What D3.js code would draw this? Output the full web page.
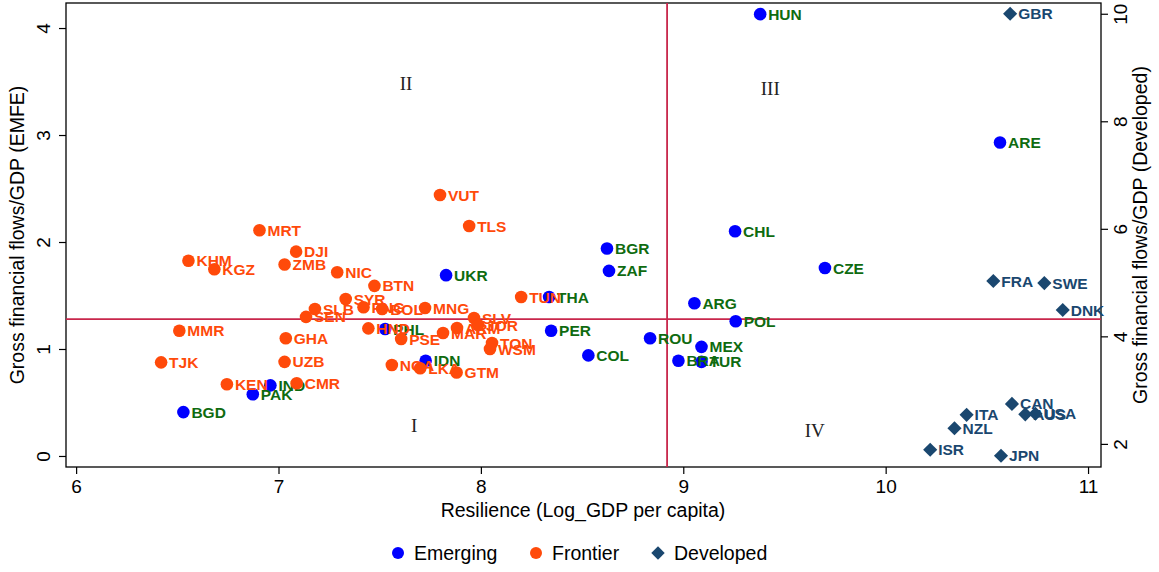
<!DOCTYPE html>
<html>
<head>
<meta charset="utf-8">
<script src="https://cdn.jsdelivr.net/npm/d3@7"></script>
<style>
  html, body { margin: 0; padding: 0; background: #fff; }
  svg { display: block; font-family: "Liberation Sans", Arial, sans-serif; }
</style>
</head>
<body>
<svg id="chart" width="1159" height="572"></svg>
<script>
// Country code, log GDP per capita, gross financial flows / GDP
const emerging = [
  ["HUN", 9.38, 4.13], ["ARE", 10.565, 2.93], ["CHL", 9.256, 2.10], ["CZE", 9.70, 1.757],
  ["BGR", 8.623, 1.94], ["ZAF", 8.633, 1.73], ["ARG", 9.055, 1.427], ["POL", 9.259, 1.26],
  ["ROU", 8.836, 1.10], ["MEX", 9.09, 1.02], ["BRA", 8.976, 0.89], ["TUR", 9.09, 0.88],
  ["COL", 8.531, 0.94], ["PER", 8.347, 1.17], ["THA", 8.337, 1.486], ["UKR", 7.828, 1.69],
  ["IND", 6.96, 0.66], ["PAK", 6.873, 0.577], ["BGD", 6.53, 0.41], ["IDN", 7.727, 0.89],
  ["PHL", 7.527, 1.187]
];
const frontier = [
  ["VUT", 7.798, 2.439], ["TLS", 7.942, 2.15], ["MRT", 6.906, 2.11], ["DJI", 7.087, 1.91],
  ["ZMB", 7.03, 1.79], ["KHM", 6.555, 1.825], ["KGZ", 6.683, 1.745], ["NIC", 7.29, 1.717],
  ["BTN", 7.474, 1.59], ["SYR", 7.332, 1.467], ["SLB", 7.18, 1.374], ["SEN", 7.136, 1.30],
  ["PNG", 7.42, 1.39], ["BOL", 7.512, 1.374], ["MNG", 7.724, 1.383], ["HND", 7.444, 1.193],
  ["PSE", 7.606, 1.093], ["GHA", 7.036, 1.10], ["UZB", 7.03, 0.88], ["MMR", 6.51, 1.17],
  ["TJK", 6.42, 0.875], ["KEN", 6.745, 0.67], ["CMR", 7.09, 0.68], ["NGA", 7.56, 0.85],
  ["LKA", 7.70, 0.82], ["GTM", 7.88, 0.78], ["MAR", 7.813, 1.15], ["ARM", 7.882, 1.196],
  ["SLV", 7.966, 1.29], ["JOR", 7.986, 1.224], ["TON", 8.055, 1.056], ["WSM", 8.045, 1.00],
  ["TUN", 8.199, 1.486]
];
// Developed economies are read against the right-hand axis
const developed = [
  ["GBR", 10.615, 10.0], ["FRA", 10.532, 5.03], ["SWE", 10.784, 4.99], ["DNK", 10.875, 4.49],
  ["CAN", 10.624, 2.744], ["AUS", 10.69, 2.55], ["USA", 10.74, 2.56], ["ITA", 10.40, 2.54],
  ["NZL", 10.34, 2.29], ["ISR", 10.22, 1.89], ["JPN", 10.57, 1.78]
];

const xTicks = [6, 7, 8, 9, 10, 11];
const yLeftTicks = [0, 1, 2, 3, 4];
const yRightTicks = [2, 4, 6, 8, 10];
const thresholdX = 8.92;   // median resilience
const thresholdY = 1.28;   // median gross flows (EMFE)
const quadrants = [
  ["I", 7.67, 0.29], ["II", 7.63, 3.48], ["III", 9.43, 3.44], ["IV", 9.65, 0.24]
];
const legendItems = ["Emerging", "Frontier", "Developed"];

const colors = {
  emMarker: "#0000ff", emLabel: "#0f6b10",
  frMarker: "#ff4a0a", frLabel: "#ff4a0a",
  dvMarker: "#1a476f", dvLabel: "#1a476f",
  line: "#c8264b"
};

const svg = d3.select("#chart");
const plot = { left: 66, right: 1101, top: 3, bottom: 467 };

const x = d3.scaleLinear().domain([5.95, 11.064]).range([plot.left, plot.right]);
const yL = d3.scaleLinear().domain([-0.103, 4.234]).range([plot.bottom, plot.top]);
const yR = d3.scaleLinear().domain([1.57, 10.2]).range([plot.bottom, plot.top]);

// Frame
svg.append("rect")
  .attr("x", plot.left).attr("y", plot.top)
  .attr("width", plot.right - plot.left).attr("height", plot.bottom - plot.top)
  .attr("fill", "none").attr("stroke", "#000").attr("stroke-width", 1.3);

// Axes
const tickFont = "19px";
const xAxis = svg.append("g").attr("transform", `translate(0,${plot.bottom})`)
  .call(d3.axisBottom(x).tickValues(xTicks).tickSize(7).tickPadding(5).tickFormat(d3.format("d")));
const yAxisL = svg.append("g").attr("transform", `translate(${plot.left},0)`)
  .call(d3.axisLeft(yL).tickValues(yLeftTicks).tickSize(7).tickFormat(d3.format("d")));
const yAxisR = svg.append("g").attr("transform", `translate(${plot.right},0)`)
  .call(d3.axisRight(yR).tickValues(yRightTicks).tickSize(7).tickFormat(d3.format("d")));

[xAxis, yAxisL, yAxisR].forEach(g => {
  g.select(".domain").remove();
  g.selectAll(".tick line").attr("stroke", "#000").attr("stroke-width", 1.2);
  g.selectAll(".tick text").attr("font-size", tickFont).attr("fill", "#000")
    .attr("font-family", "Liberation Sans, Arial, sans-serif");
});
xAxis.selectAll(".tick text").attr("dy", "0.72em");
// Vertical axes carry rotated tick labels
yAxisL.selectAll(".tick text")
  .attr("x", null).attr("dy", null).attr("text-anchor", "middle")
  .attr("transform", "translate(-16,0) rotate(-90)").attr("y", 0);
yAxisR.selectAll(".tick text")
  .attr("x", null).attr("dy", null).attr("text-anchor", "middle")
  .attr("transform", "translate(26,0) rotate(-90)").attr("y", 0);

// Axis titles
const titleSize = "19.5px";
svg.append("text").attr("x", 583).attr("y", 517)
  .attr("text-anchor", "middle").attr("font-size", titleSize).attr("fill", "#000")
  .text("Resilience (Log_GDP per capita)");
svg.append("text")
  .attr("transform", `translate(24,${(plot.top + plot.bottom) / 2}) rotate(-90)`)
  .attr("text-anchor", "middle").attr("font-size", titleSize).attr("fill", "#000")
  .text("Gross financial flows/GDP (EMFE)");
svg.append("text")
  .attr("transform", `translate(1147,${(plot.top + plot.bottom) / 2}) rotate(-90)`)
  .attr("text-anchor", "middle").attr("font-size", titleSize).attr("fill", "#000")
  .text("Gross financial flows/GDP (Developed)");

// Median threshold lines
svg.append("line")
  .attr("x1", plot.left).attr("x2", plot.right)
  .attr("y1", yL(thresholdY)).attr("y2", yL(thresholdY))
  .attr("stroke", colors.line).attr("stroke-width", 1.8);
svg.append("line")
  .attr("x1", x(thresholdX)).attr("x2", x(thresholdX))
  .attr("y1", plot.top).attr("y2", plot.bottom)
  .attr("stroke", colors.line).attr("stroke-width", 1.8);

// Quadrant numerals
svg.append("g").selectAll("text").data(quadrants).join("text")
  .attr("x", d => x(d[1])).attr("y", d => yL(d[2]))
  .attr("text-anchor", "middle").attr("dy", "0.35em")
  .attr("font-size", "19px").attr("fill", "#222")
  .attr("font-family", "Liberation Serif, Times New Roman, serif")
  .text(d => d[0]);

const labelFont = "bold 15.5px 'Liberation Sans', Arial, sans-serif";

function drawSeries(data, yScale, markerColor, labelColor, shape) {
  const g = svg.append("g");
  if (shape === "circle") {
    g.selectAll("circle").data(data).join("circle")
      .attr("cx", d => x(d[1])).attr("cy", d => yScale(d[2]))
      .attr("r", 6.3).attr("fill", markerColor);
  } else {
    g.selectAll("path").data(data).join("path")
      .attr("d", d3.symbol().type(d3.symbolSquare).size(100))
      .attr("transform", d => `translate(${x(d[1])},${yScale(d[2])}) rotate(45)`)
      .attr("fill", markerColor);
  }
  g.selectAll("text").data(data).join("text")
    .attr("x", d => x(d[1]) + 8).attr("y", d => yScale(d[2]))
    .attr("dy", "0.36em")
    .style("font", labelFont).attr("fill", labelColor)
    .text(d => d[0]);
}

drawSeries(emerging, yL, colors.emMarker, colors.emLabel, "circle");
drawSeries(frontier, yL, colors.frMarker, colors.frLabel, "circle");
drawSeries(developed, yR, colors.dvMarker, colors.dvLabel, "diamond");

// Legend
const legendX = [398, 536, 658];
const legendMarkers = [colors.emMarker, colors.frMarker, colors.dvMarker];
const lg = svg.append("g").attr("transform", "translate(0,553)");
legendItems.forEach((name, i) => {
  if (i < 2) {
    lg.append("circle").attr("cx", legendX[i]).attr("cy", 0).attr("r", 6).attr("fill", legendMarkers[i]);
  } else {
    lg.append("path").attr("d", d3.symbol().type(d3.symbolSquare).size(90)())
      .attr("transform", `translate(${legendX[i]},0) rotate(45)`).attr("fill", legendMarkers[i]);
  }
  lg.append("text").attr("x", legendX[i] + 16).attr("y", 0).attr("dy", "0.36em")
    .attr("font-size", "19.5px").attr("fill", "#000").text(name);
});
</script>
</body>
</html>
